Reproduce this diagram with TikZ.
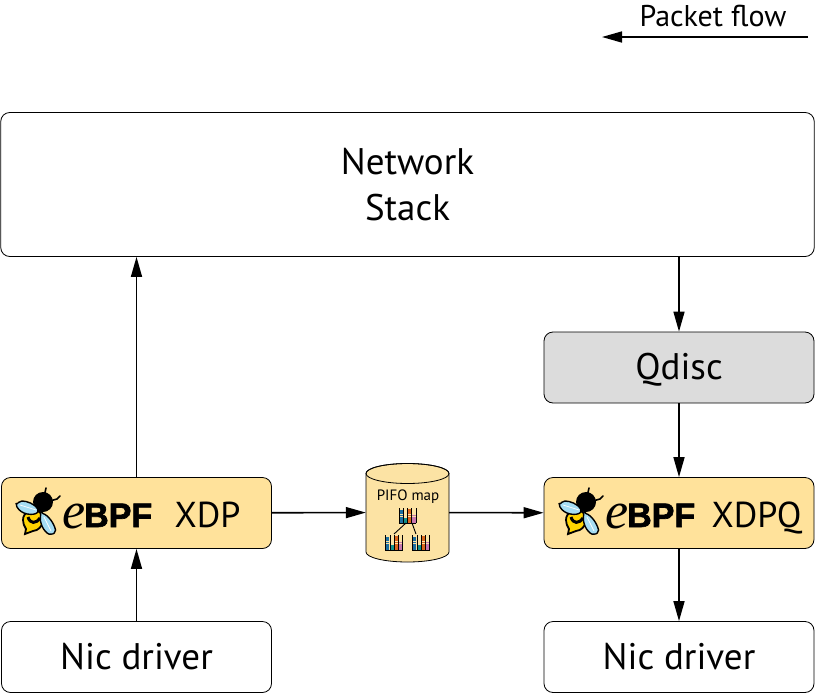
\documentclass[tikz,border=0pt]{standalone}
\usepackage{fontspec}
\setmainfont{PT Sans}
\newfontfamily\bpffont[FakeBold=2]{Liberation Sans Bold}
\newfontfamily\efont{Liberation Serif Italic}
\usetikzlibrary{arrows.meta}

\definecolor{ebpfyellow}{HTML}{FFE29B}
\definecolor{qdiscgrey}{HTML}{DCDCDC}
\definecolor{mapyellow}{HTML}{FCE3A4}
\definecolor{wingblue}{HTML}{A5DDF3}
\definecolor{beeyellow}{HTML}{FFD400}
\definecolor{barblue}{HTML}{1B6FA0}
\definecolor{barteal}{HTML}{11908A}
\definecolor{barorange}{HTML}{D9651C}
\definecolor{barpink}{HTML}{C878B0}

\tikzset{
  box/.style={draw=black, rounded corners=9pt, fill=white, line width=0.8pt, font=\fontsize{37}{46}\selectfont, align=center, inner sep=0pt},
  xdpbox/.style={box, fill=ebpfyellow},
  xdpname/.style={font=\fontsize{36}{40}\selectfont, inner sep=0pt, anchor=base},
  flow/.style={-{Triangle[length=20pt, width=11pt]}, line width=1.6pt},
}

% bee and eBPF word, origin up and left of the bee
\newcommand{\beelogo}[2]{%
  \begin{scope}[shift={(#1)}]
    \draw[line width=1.6pt, line cap=round] (36,6) -- (34,15);
    \draw[line width=1.6pt, line cap=round] (40,19) -- (47,17) -- (50,14);
    \fill[black] (33,20) circle (10);
    \draw[fill=beeyellow, line width=1.8pt] (13,38) .. controls (13,30) and (22,26) .. (28,29) .. controls (36,33) and (34,48) .. (23,49) -- (15,52) -- (16,47) .. controls (14,44) and (13,41) .. (13,38) -- cycle;
    \draw[black, line width=3pt] (18,35) .. controls (20,42) and (26,42) .. (30,36);
    \draw[fill=wingblue, line width=1.4pt, rounded corners=2pt] (6,23) -- (10,19) .. controls (17,19) and (25,22) .. (29,29) .. controls (24,34) and (11,33) .. (6,23) -- cycle;
    \draw[fill=wingblue, line width=1.4pt, rounded corners=2pt] (31,31) .. controls (38,33) and (44,41) .. (46,50) -- (41,53) .. controls (34,50) and (29,41) .. (31,31) -- cycle;
    \draw[white, line width=0.7pt] (10,23) -- (26,28);
    \draw[white, line width=0.7pt] (34,35) -- (41,49);
    \node[font=\efont\fontsize{52}{52}\selectfont, inner sep=0pt, anchor=base west] (e#2) at (52,46) {e};
    \node[font=\bpffont\fontsize{34}{34}\selectfont, inner sep=0pt, anchor=base west] (bpf#2) at (74,45) {BPF};
  \end{scope}%
}

% little bar chart of the tree, origin at its lower left corner
\newcommand{\pifobars}[1]{%
  \begin{scope}[shift={(#1)}]
    \draw[barblue, line width=3.4pt, dash pattern=on 1.8pt off 0.4pt] (2.7,0) -- (2.7,-13);
    \draw[barteal, line width=3.4pt, dash pattern=on 1.8pt off 0.4pt] (6.9,0) -- (6.9,-5);
    \draw[barorange, line width=3.4pt, dash pattern=on 1.8pt off 0.4pt] (11.1,0) -- (11.1,-14);
    \draw[barpink, line width=3.4pt, dash pattern=on 1.8pt off 0.4pt] (15.3,0) -- (15.3,-8);
    \foreach \xc in {0.6,4.8,9,13.2,17.4}
      \draw[black, line width=0.6pt] (\xc,0) -- (\xc,-15);
    \draw[black, line width=0.8pt] (0.3,0) -- (17.7,0);
  \end{scope}%
}

\begin{document}
\begin{tikzpicture}[x=1pt, y=-1pt, >=Latex]

  % --- page ---
  \useasboundingbox (0,0) rectangle (815,694);

  % --- blocks ---
  \node[box, minimum width=813.5, minimum height=144] (stack) at (407.5,184.5) {Network\\Stack};
  \node[box, fill=qdiscgrey, minimum width=270, minimum height=71] (qdisc) at (679,367.5) {\raisebox{-11.5pt}[0pt][0pt]{Qdisc}};
  \node[xdpbox, minimum width=270, minimum height=71] (xdp) at (136.5,513) {};
  \node[xdpbox, minimum width=270, minimum height=71] (xdpq) at (679,513) {};
  \node[box, minimum width=270, minimum height=71] (nicl) at (136.5,657) {Nic driver};
  \node[box, minimum width=270, minimum height=71] (nicr) at (679,657) {Nic driver};

  % --- logos and names ---
  \beelogo{10,482}{l}
  \beelogo{553,482}{r}
  \node[xdpname] (xdplabel) at (207.5,527) {XDP};
  \node[xdpname] (xdpqlabel) at (756.5,527) {XDPQ};

  % --- map ---
  \node[minimum width=83, minimum height=99, inner sep=0pt] (pifo) at (407.5,512.5) {};
  \draw[fill=mapyellow, line width=0.8pt] (366,473.5) -- (366,552) arc[start angle=180, end angle=0, x radius=41.5, y radius=10] -- (449,473.5) arc[start angle=0, end angle=-180, x radius=41.5, y radius=10] -- cycle;
  \draw[line width=0.8pt] (407.5,473.5) ellipse[x radius=41.5, y radius=10];
  \node[font=\fontsize{15}{18}\selectfont, inner sep=0pt] (pifolabel) at (408,497) {PIFO map};
  \pifobars{398.5,523}
  \pifobars{385,550}
  \pifobars{412,550}
  \draw[line width=0.9pt] (406,523) -- (394,534);
  \draw[line width=0.9pt] (412,523) -- (416,534);

  % --- flow ---
  \node[font=\fontsize{30}{36}\selectfont, inner sep=0pt] (flowlabel) at (713,16) {Packet flow};
  \coordinate (flowstart) at (808,37);
  \coordinate (flowend) at (602,37);
  \draw[flow] (flowstart) -- (flowend);

  \draw[flow] (xdp.north) -- (xdp.north |- stack.south);
  \draw[flow] (nicl) -- (xdp);
  \draw[flow] (xdp) -- (pifo);
  \draw[flow] (pifo) -- (xdpq);
  \draw[flow] (stack.south -| qdisc.north) -- (qdisc);
  \draw[flow] (qdisc) -- (xdpq);
  \draw[flow] (xdpq) -- (nicr);

\end{tikzpicture}
\end{document}
